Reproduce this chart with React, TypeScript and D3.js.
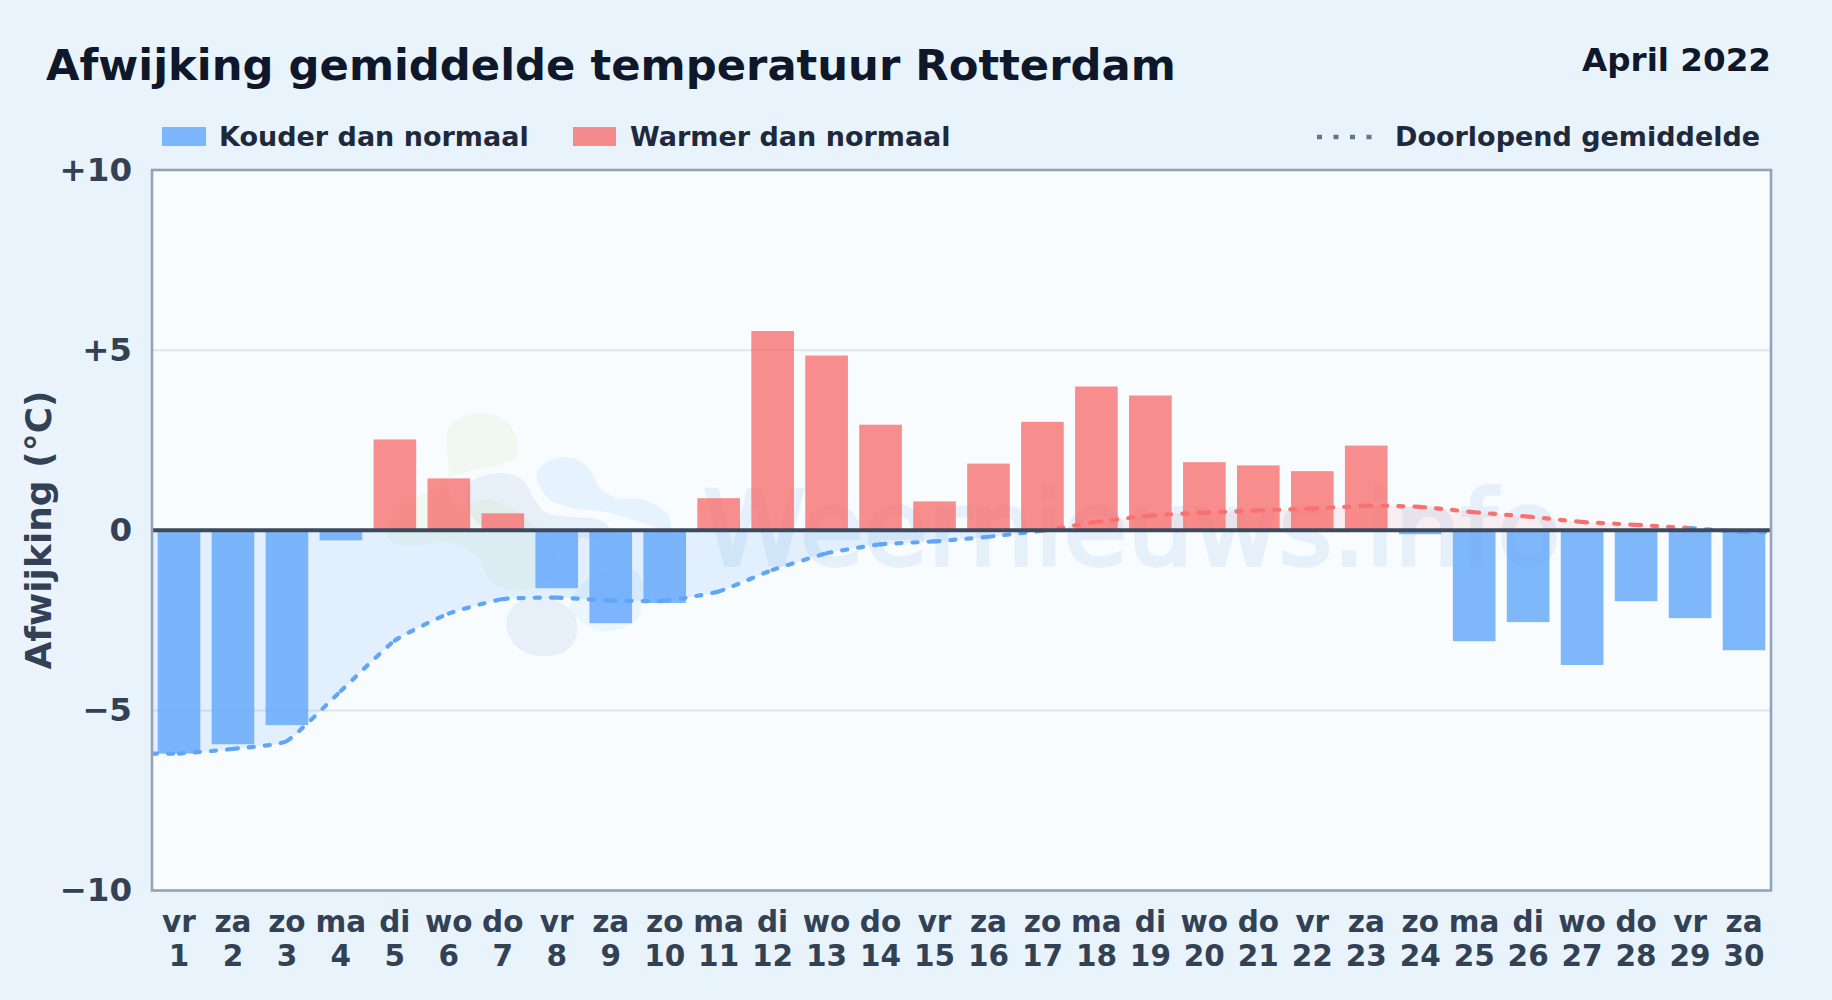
import { useRef, useEffect } from 'react';
import * as d3 from 'd3';

const WEEKDAYS = ['vr', 'za', 'zo', 'ma', 'di', 'wo', 'do', 'vr', 'za', 'zo', 'ma', 'di', 'wo', 'do', 'vr', 'za', 'zo', 'ma', 'di', 'wo', 'do', 'vr', 'za', 'zo', 'ma', 'di', 'wo', 'do', 'vr', 'za'];
const DAYS = ['1', '2', '3', '4', '5', '6', '7', '8', '9', '10', '11', '12', '13', '14', '15', '16', '17', '18', '19', '20', '21', '22', '23', '24', '25', '26', '27', '28', '29', '30'];
const ANOMALY = [-6.2, -5.94, -5.41, -0.28, 2.52, 1.44, 0.47, -1.61, -2.58, -2.02, 0.89, 5.53, 4.85, 2.93, 0.8, 1.85, 3.01, 3.99, 3.74, 1.89, 1.8, 1.64, 2.35, -0.11, -3.08, -2.55, -3.74, -1.97, -2.44, -3.33];
const RUNNING = [-6.2, -6.07, -5.85, -4.46, -3.06, -2.31, -1.91, -1.87, -1.95, -1.96, -1.7, -1.1, -0.64, -0.39, -0.31, -0.18, -0.01, 0.23, 0.41, 0.49, 0.55, 0.6, 0.68, 0.65, 0.5, 0.38, 0.23, 0.15, 0.06, -0.05];
const Y_TICKS = [-10, -5, 0, 5, 10];
const GRID_VALUES = [-5, 5];

const FONT = '"DejaVu Sans", sans-serif';
const BLUE = '#60a5fa';
const RED = '#f87171';

// faint logo behind the plot, outlines in px from the logo's top left corner
const LOGO_BLOBS: { color: string; points: [number, number][] }[] = [
  {
    color: 'rgba(190,225,150,0.13)',
    points: [[88, 40], [100, 28], [123, 23], [147, 32], [157, 50], [155, 67], [140, 75], [113, 80], [90, 88], [72, 100], [40, 115], [27, 147], [44, 155], [93, 153], [117, 167], [130, 190], [150, 200], [177, 197], [200, 180], [180, 140], [130, 110], [95, 115], [88, 70]],
  },
  {
    color: 'rgba(40,100,170,0.08)',
    points: [[110, 93], [140, 83], [163, 90], [173, 107], [187, 123], [213, 127], [240, 130], [250, 140], [240, 148], [175, 140], [120, 135], [108, 115]],
  },
  {
    color: 'rgba(56,160,240,0.09)',
    points: [[177, 83], [190, 70], [213, 68], [230, 80], [240, 98], [257, 108], [283, 110], [307, 123], [310, 140], [280, 132], [250, 123], [213, 118], [190, 110], [180, 97]],
  },
  {
    color: 'rgba(40,100,170,0.08)',
    points: [[146, 233], [157, 213], [187, 207], [213, 223], [217, 243], [207, 260], [180, 266], [157, 257]],
  },
  {
    color: 'rgba(56,160,240,0.07)',
    points: [[210, 217], [230, 187], [267, 177], [282, 190], [282, 213], [277, 230], [250, 241], [230, 237]],
  },
];

type Seg = { d: string; value: number };

export default function App() {
  const svgRef = useRef<SVGSVGElement>(null);

  useEffect(() => {
    if (!svgRef.current) return;
    const svg = d3.select(svgRef.current);
    svg.selectAll('*').remove();

    const width = 1832;
    const height = 1000;
    const left = 152;
    const right = 1771;
    const top = 170;
    const bottom = 890.5;

    const x = d3.scaleBand<string>().domain(DAYS).range([left, right]).paddingInner(0.21).paddingOuter(0.105);
    const y = d3.scaleLinear().domain([-10, 10]).range([bottom, top]);
    const cx = (i: number) => x(DAYS[i])! + x.bandwidth() / 2;
    const lineCurve = d3.curveCardinal.tension(0.55);

    const defs = svg.append('defs');
    const bg = defs.append('linearGradient').attr('id', 'page-bg').attr('x1', 0).attr('x2', 1).attr('y1', 0).attr('y2', 0);
    bg.append('stop').attr('offset', '0%').attr('stop-color', '#ebf4fd');
    bg.append('stop').attr('offset', '6%').attr('stop-color', '#e9f3fc');
    bg.append('stop').attr('offset', '100%').attr('stop-color', '#e9f3fc');

    defs.append('clipPath').attr('id', 'clip-above').append('rect')
      .attr('x', left).attr('y', top).attr('width', right - left).attr('height', y(0) - top);
    defs.append('clipPath').attr('id', 'clip-below').append('rect')
      .attr('x', left).attr('y', y(0)).attr('width', right - left).attr('height', bottom - y(0));
    defs.append('clipPath').attr('id', 'clip-plot').append('rect')
      .attr('x', left).attr('y', top).attr('width', right - left).attr('height', bottom - top);

    svg.append('rect').attr('width', width).attr('height', height).attr('fill', 'url(#page-bg)');
    svg.append('rect').attr('x', left).attr('y', top).attr('width', right - left).attr('height', bottom - top).attr('fill', '#f8fcff');

    // Grid
    svg.selectAll('.grid-y')
      .data(GRID_VALUES)
      .enter()
      .append('line')
      .attr('x1', left)
      .attr('x2', right)
      .attr('y1', (d) => y(d))
      .attr('y2', (d) => y(d))
      .attr('stroke', '#dfe6ee')
      .attr('stroke-width', 2);

    // Watermark
    const blob = d3.line().curve(d3.curveCatmullRomClosed.alpha(0.5));
    const logo = svg.append('g').attr('transform', 'translate(360,390)');
    logo.selectAll('path')
      .data(LOGO_BLOBS)
      .enter()
      .append('path')
      .attr('d', (d) => blob(d.points))
      .attr('fill', (d) => d.color);
    svg.append('text')
      .attr('x', 703)
      .attr('y', 565)
      .attr('font-family', FONT)
      .attr('font-size', 104)
      .attr('fill', '#1d6fc4')
      .attr('stroke', '#1d6fc4')
      .attr('stroke-width', 3.5)
      .attr('opacity', 0.08)
      .text('Weernieuws.info');

    // Running mean: the line runs on to both plot edges
    const linePts: [number, number][] = [
      [left, y(RUNNING[0])],
      ...RUNNING.map((v, i): [number, number] => [cx(i), y(v)]),
      [right, y(RUNNING[RUNNING.length - 1])],
    ];
    const lineValues = [RUNNING[0], ...RUNNING, RUNNING[RUNNING.length - 1]];

    const area = d3.area<[number, number]>()
      .x((d) => d[0])
      .y0(y(0))
      .y1((d) => d[1])
      .curve(lineCurve);
    svg.append('path').attr('d', area(linePts)).attr('fill', BLUE).attr('opacity', 0.15).attr('clip-path', 'url(#clip-below)');
    svg.append('path').attr('d', area(linePts)).attr('fill', RED).attr('opacity', 0.1).attr('clip-path', 'url(#clip-above)');

    // Bars
    svg.selectAll('.bar')
      .data(ANOMALY)
      .enter()
      .append('rect')
      .attr('x', (_, i) => x(DAYS[i])!)
      .attr('width', x.bandwidth())
      .attr('y', (d) => Math.min(y(d), y(0)))
      .attr('height', (d) => Math.abs(y(d) - y(0)))
      .attr('fill', (d) => (d < 0 ? BLUE : RED))
      .attr('opacity', 0.8);

    // Split the curve per day, each piece restarts its dash pattern
    const segs: Seg[] = [];
    let last: [number, number] = linePts[0];
    const ctx: any = {
      moveTo(a: number, b: number) {
        last = [a, b];
      },
      lineTo(a: number, b: number) {
        segs.push({ d: `M${last}L${a},${b}`, value: lineValues[segs.length + 1] });
        last = [a, b];
      },
      bezierCurveTo(a: number, b: number, c: number, d: number, e: number, f: number) {
        segs.push({ d: `M${last}C${a},${b},${c},${d},${e},${f}`, value: lineValues[segs.length + 1] });
        last = [e, f];
      },
      closePath() {},
    };
    d3.line().curve(lineCurve).context(ctx)(linePts);

    svg.append('g')
      .attr('clip-path', 'url(#clip-plot)')
      .selectAll('path')
      .data(segs)
      .enter()
      .append('path')
      .attr('d', (d) => d.d)
      .attr('fill', 'none')
      .attr('stroke', (d) => (d.value < 0 ? BLUE : RED))
      .attr('stroke-width', 4.2)
      .attr('stroke-linecap', 'round')
      .attr('stroke-dasharray', '5 11');

    // Zero line and frame
    svg.append('line')
      .attr('x1', left)
      .attr('x2', right)
      .attr('y1', y(0))
      .attr('y2', y(0))
      .attr('stroke', '#3d4a5e')
      .attr('stroke-width', 4);
    svg.append('rect')
      .attr('x', left)
      .attr('y', top)
      .attr('width', right - left)
      .attr('height', bottom - top)
      .attr('fill', 'none')
      .attr('stroke', '#94a3b8')
      .attr('stroke-width', 2.6);

    // Axes
    const yAxis = svg.append('g')
      .attr('transform', `translate(${left},0)`)
      .call(
        d3.axisLeft(y)
          .tickValues(Y_TICKS)
          .tickSize(0)
          .tickPadding(20)
          .tickFormat((d) => (+d > 0 ? `+${d}` : +d < 0 ? `\u2212${Math.abs(+d)}` : '0')),
      );
    yAxis.select('.domain').remove();
    yAxis.selectAll('text')
      .attr('font-family', FONT)
      .attr('font-weight', 700)
      .attr('font-size', 32.5)
      .attr('fill', '#334155');

    const xAxis = svg.append('g')
      .attr('transform', `translate(0,${bottom})`)
      .call(d3.axisBottom(x).tickSize(0).tickFormat(() => ''));
    xAxis.select('.domain').remove();
    xAxis.selectAll('.tick text').each(function (_, i) {
      const t = d3.select(this as SVGTextElement);
      t.attr('y', 0).attr('dy', 0)
        .attr('font-family', FONT)
        .attr('font-weight', 700)
        .attr('font-size', 29.5)
        .attr('fill', '#334155');
      t.append('tspan').attr('x', 0).attr('y', 41).text(WEEKDAYS[i]);
      t.append('tspan').attr('x', 0).attr('y', 75).text(DAYS[i]);
    });

    svg.append('text')
      .attr('transform', `translate(50.5,530) rotate(-90)`)
      .attr('text-anchor', 'middle')
      .attr('font-family', FONT)
      .attr('font-weight', 700)
      .attr('font-size', 36)
      .attr('fill', '#334155')
      .text('Afwijking (\u00b0C)');

    // Title
    svg.append('text')
      .attr('x', 46)
      .attr('y', 79.5)
      .attr('font-family', FONT)
      .attr('font-weight', 700)
      .attr('font-size', 43.3)
      .attr('fill', '#0f172a')
      .text('Afwijking gemiddelde temperatuur Rotterdam');
    svg.append('text')
      .attr('x', 1771)
      .attr('y', 70.5)
      .attr('text-anchor', 'end')
      .attr('font-family', FONT)
      .attr('font-weight', 700)
      .attr('font-size', 32.6)
      .attr('fill', '#0f172a')
      .text('April 2022');

    // Legend
    const legendText = (tx: number, label: string) =>
      svg.append('text')
        .attr('x', tx)
        .attr('y', 146)
        .attr('font-family', FONT)
        .attr('font-weight', 700)
        .attr('font-size', 27)
        .attr('fill', '#1e293b')
        .text(label);
    svg.append('rect').attr('x', 162).attr('y', 127).attr('width', 44).attr('height', 19).attr('fill', BLUE).attr('opacity', 0.8);
    legendText(219, 'Kouder dan normaal');
    svg.append('rect').attr('x', 573).attr('y', 127).attr('width', 43).attr('height', 19).attr('fill', RED).attr('opacity', 0.8);
    legendText(630, 'Warmer dan normaal');
    svg.append('line')
      .attr('x1', 1317)
      .attr('x2', 1374)
      .attr('y1', 137)
      .attr('y2', 137)
      .attr('stroke', '#64748b')
      .attr('stroke-width', 4.5)
      .attr('stroke-dasharray', '5 11.5');
    legendText(1395, 'Doorlopend gemiddelde');
  }, []);

  return <svg ref={svgRef} width={1832} height={1000} style={{ position: 'absolute', left: 0, top: 0 }} />;
}
